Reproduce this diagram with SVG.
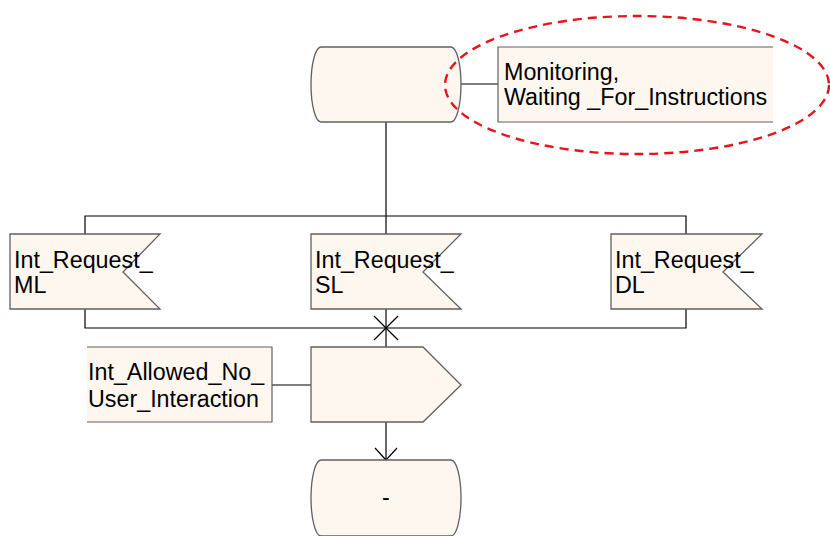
<svg xmlns="http://www.w3.org/2000/svg" width="830" height="536" viewBox="0 0 830 536">
<style>
.sh{fill:#fef7f0;stroke:#606060;stroke-width:1.3}
.ln{fill:none;stroke:#000;stroke-width:1.2}
.fr{fill:none;stroke:#606060;stroke-width:1.2}
.bg{fill:#fef7f0;stroke:none}
text{font-family:"Liberation Sans",Arial,sans-serif;font-size:23.3px;fill:#000}
</style>
<rect width="830" height="536" fill="#fff"/>
<g id="connectors">
<line class="ln" x1="386" y1="122" x2="386" y2="234"/>
<polyline class="ln" points="85,234 85,216 686,216 686,234"/>
<polyline class="ln" points="85,309 85,328 686,328 686,309"/>
<line class="ln" x1="386" y1="309" x2="386" y2="347"/>
<line class="ln" x1="374" y1="316" x2="398" y2="340"/>
<line class="ln" x1="398" y1="316" x2="374" y2="340"/>
<line class="ln" x1="386" y1="422" x2="386" y2="460"/>
<polyline class="ln" points="375,448 386,460 397,448"/>
<line class="ln" x1="461" y1="84" x2="498" y2="84"/>
<line class="ln" x1="272" y1="385" x2="311" y2="385"/>
</g>
<g id="state_top">
<path class="sh" d="M321 47 H451 A10 37.5 0 0 1 451 122 H321 A10 37.5 0 0 1 321 47 Z"/>
</g>
<g id="note_monitoring">
<rect class="bg" x="498" y="47" width="275" height="75"/>
<polyline class="fr" points="773,47 498,47 498,122 773,122"/>
<text x="504" y="80">Monitoring,</text>
<text x="504" y="105">Waiting _For_Instructions</text>
</g>
<g id="highlight">
<ellipse cx="637" cy="85" rx="192" ry="69" fill="none" stroke="#e8141c" stroke-width="2.4" stroke-dasharray="9,6"/>
</g>
<g id="input_ml">
<polygon class="sh" points="10,234 160,234 123,272 160,309 10,309"/>
<text x="14" y="268">Int_Request_</text>
<text x="14" y="293">ML</text>
</g>
<g id="input_sl">
<polygon class="sh" points="311,234 461,234 423,272 461,309 311,309"/>
<text x="315" y="268">Int_Request_</text>
<text x="315" y="293">SL</text>
</g>
<g id="input_dl">
<polygon class="sh" points="611,234 762,234 723,272 762,309 611,309"/>
<text x="615" y="268">Int_Request_</text>
<text x="615" y="293">DL</text>
</g>
<g id="note_allowed">
<rect class="bg" x="87" y="347" width="185" height="75"/>
<polyline class="fr" points="87,347 272,347 272,422 87,422"/>
<text x="88" y="380">Int_Allowed_No_</text>
<text x="88" y="407">User_Interaction</text>
</g>
<g id="output">
<polygon class="sh" points="311,347 423,347 461,385 423,422 311,422"/>
</g>
<g id="state_bottom">
<path class="sh" d="M321 460 H451 A10 38 0 0 1 451 536 H321 A10 38 0 0 1 321 460 Z"/>
<text x="386" y="505" text-anchor="middle">-</text>
</g>
</svg>
